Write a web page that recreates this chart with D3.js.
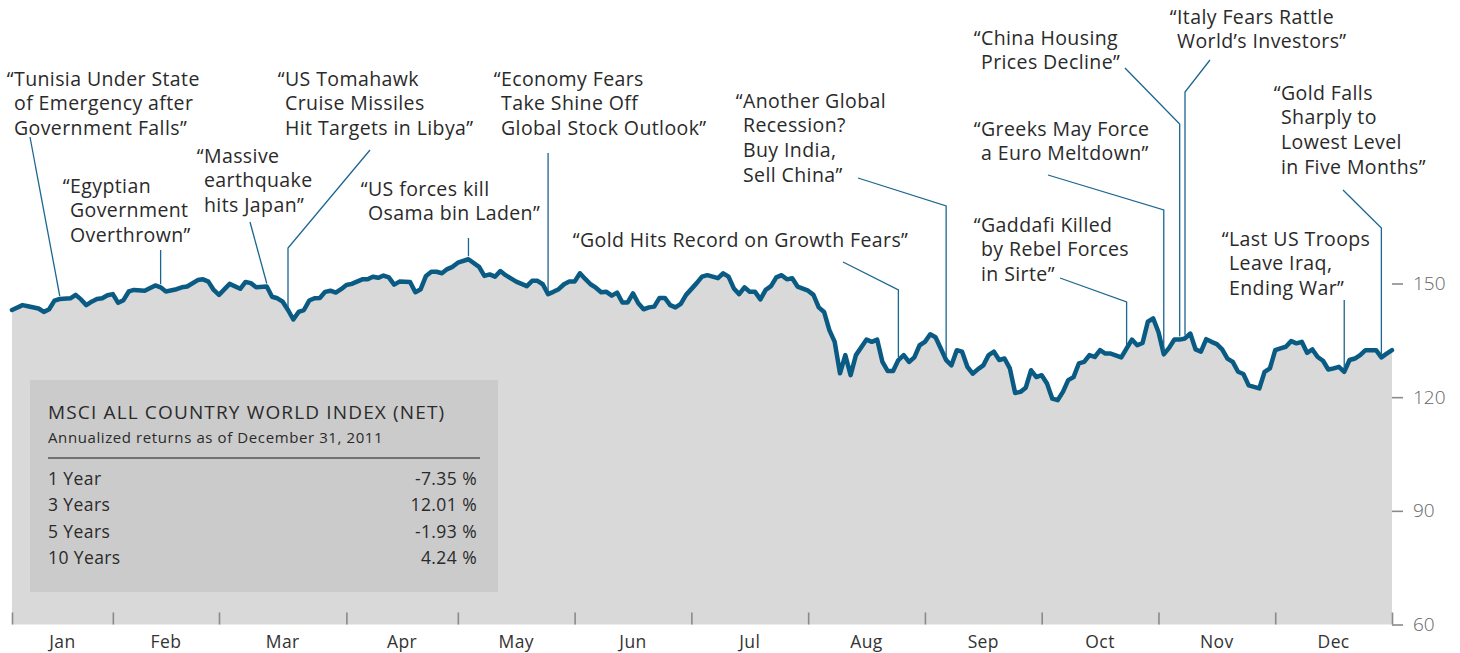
<!DOCTYPE html>
<html>
<head>
<meta charset="utf-8">
<script src="https://cdn.jsdelivr.net/npm/d3@7"></script>
<style>
  body { margin: 0; background: #fff; }
  svg { display: block; font-family: "Open Sans", Lato, sans-serif; }
  .axis path.domain { display: none; }
  .axis line { stroke: #8a8a8a; stroke-width: 1.6; }
  .y.axis text { fill: #666; font-size: 19px; font-family: "Open Sans", sans-serif; font-weight: 300; }
  .event-text { fill: #2a2a2a; font-size: 19.5px; letter-spacing: 0.4px; }
  .leader { fill: none; stroke: #1b6690; stroke-width: 1.3; }
  .month-label { fill: #333; font-size: 17.5px; letter-spacing: 0.4px; text-anchor: middle; }
  .box-text { fill: #2a2a2a; }
</style>
</head>
<body>
<svg id="chart" width="1460" height="653"></svg>
<script>
'use strict';

// month names and the trading day on which each month starts (last value = end of year)
var months = ['Jan','Feb','Mar','Apr','May','Jun','Jul','Aug','Sep','Oct','Nov','Dec'];
var monthStartDay = [0, 19, 39, 63, 84, 106, 128, 150, 172, 194, 216, 238, 260];

var yTicks = [60, 90, 120, 150];

// [trading day, index level]
var indexPoints = [
  [0,143.0],[2,144.3],[3,144.0],[5,143.4],[6,142.5],[7,143.2],[8,145.5],[9,145.9],[11,146.1],[12,147.0],
  [13,145.8],[14,144.3],[15,145.2],[16,145.9],[17,146.1],[18,146.9],
  [19,147.2],[20,144.9],[21,145.6],[22,147.9],[23,148.3],[25,148.1],[27,149.5],[28,149.0],[29,147.9],
  [31,148.5],[32,149.0],[33,149.2],[35,150.9],[36,151.1],[37,150.5],[38,148.3],
  [39,147.0],[41,149.9],[43,148.6],[44,150.4],[45,150.1],[46,149.0],[48,149.2],[49,146.5],[50,146.1],
  [51,145.2],[52,143.0],[53,140.5],[54,142.5],[55,143.0],[56,145.5],[57,146.1],[58,146.2],[59,147.8],
  [60,148.1],[61,147.6],[62,148.5],
  [63,149.6],[64,149.9],[66,151.1],[67,151.1],[68,151.8],[69,151.5],[70,152.1],[71,151.6],[72,149.7],
  [73,150.5],[75,150.4],[76,147.7],[77,148.5],[78,152.0],[79,153.1],[80,153.1],[81,152.7],[82,153.8],
  [83,154.4],
  [84,155.5],[86,156.4],[88,154.4],[89,152.0],[90,152.4],[91,151.8],[92,153.3],[93,152.2],[95,150.5],
  [97,149.3],[98,150.7],[99,150.7],[100,149.8],[101,147.2],[102,147.8],[103,148.5],[104,149.8],[105,150.5],
  [106,150.5],[107,152.7],[108,151.2],[109,149.8],[110,148.9],[111,147.7],[112,147.8],[113,146.8],
  [114,147.6],[115,145.0],[116,145.0],[117,147.4],[118,144.8],[119,143.2],[120,143.7],[121,143.9],
  [122,146.2],[123,146.2],[124,144.3],[125,143.7],[126,144.6],[127,147.0],
  [129,150.1],[130,151.8],[131,152.2],[133,151.4],[134,152.7],[135,151.8],[136,148.7],[137,147.2],
  [138,149.0],[139,147.8],[140,147.8],[141,145.8],[142,148.3],[143,149.3],[144,151.6],[145,152.2],
  [146,151.1],[147,151.4],[148,149.2],
  [150,148.1],[151,147.0],[152,143.7],[153,142.5],[154,137.7],[155,134.6],[156,126.3],[157,131.1],
  [158,125.8],[159,131.1],[161,135.2],[162,134.6],[163,135.2],[164,129.3],[165,126.9],[166,126.9],
  [167,129.8],[168,131.1],[169,129.3],[170,130.5],[171,133.7],
  [172,134.6],[173,136.6],[174,135.8],[176,129.8],[177,128.4],[178,132.4],[179,132.0],[180,128.0],
  [181,126.2],[182,127.4],[183,128.4],[184,131.1],[185,132.0],[186,129.8],[187,130.2],[188,127.6],
  [189,121.1],[190,121.4],[191,122.5],[192,127.1],[193,125.3],
  [194,125.8],[195,123.6],[196,119.6],[197,119.2],[198,121.4],[199,124.5],[200,125.3],[201,128.9],
  [202,129.3],[203,131.1],[204,130.6],[205,132.4],[206,131.5],[207,131.5],[209,130.5],[210,132.9],
  [211,135.2],[212,133.7],[213,134.3],[214,139.9],[215,140.8],
  [216,137.2],[217,131.3],[218,133.0],[219,135.2],[220,135.2],[221,135.5],[222,136.8],[223,132.6],
  [224,132.0],[225,135.3],[226,134.6],[227,134.0],[228,132.6],[229,130.2],[230,129.3],[231,126.7],
  [232,126.1],[233,123.1],[234,122.7],[235,122.3],[236,126.7],[237,127.6],
  [238,132.4],[239,132.9],[240,133.3],[241,134.8],[242,134.2],[243,134.6],[244,131.7],[245,132.6],
  [246,130.6],[247,129.6],[248,127.3],[249,127.6],[250,128.0],[251,126.7],[252,129.8],[253,130.2],
  [254,131.1],[255,132.4],[257,132.4],[258,130.5],[259,131.5],[260,132.4]
];

// headlines and the trading day they point at
var eventTexts = [
  ['“Tunisia Under State', 'of Emergency after', 'Government Falls”'],
  ['“Egyptian', 'Government', 'Overthrown”'],
  ['“Massive', 'earthquake', 'hits Japan”'],
  ['“US Tomahawk', 'Cruise Missiles', 'Hit Targets in Libya”'],
  ['“US forces kill', 'Osama bin Laden”'],
  ['“Economy Fears', 'Take Shine Off', 'Global Stock Outlook”'],
  ['“Gold Hits Record on Growth Fears”'],
  ['“Another Global', 'Recession?', 'Buy India,', 'Sell China”'],
  ['“Gaddafi Killed', 'by Rebel Forces', 'in Sirte”'],
  ['“Greeks May Force', 'a Euro Meltdown”'],
  ['“China Housing', 'Prices Decline”'],
  ['“Italy Fears Rattle', 'World’s Investors”'],
  ['“Gold Falls', 'Sharply to', 'Lowest Level', 'in Five Months”'],
  ['“Last US Troops', 'Leave Iraq,', 'Ending War”']
];
var eventDays = [9, 28, 48, 52, 86, 101, 167, 176, 210, 217, 220, 221, 258, 251];

// return table
var returnPeriods = ['1 Year', '3 Years', '5 Years', '10 Years'];
var returnValues = ['-7.35 %', '12.01 %', '-1.93 %', '4.24 %'];

// ---- layout ----
// label placement: text x, first line centre y, diagonal start, y where leader turns vertical
var eventLayout = [
  {x: 14,   y: 79,  diag: [30, 137],   top: null},
  {x: 70,   y: 186, diag: null,        top: 250},
  {x: 204,  y: 156, diag: [250, 222],  top: null},
  {x: 285,  y: 79,  diag: [370, 150],  top: 248},
  {x: 368,  y: 189, diag: null,        top: 238},
  {x: 501,  y: 79,  diag: null,        top: 153},
  {x: 580,  y: 240, diag: [843, 262],  top: 290},
  {x: 743,  y: 101, diag: [858, 178],  top: 206},
  {x: 981,  y: 225, diag: [1060, 278], top: 302},
  {x: 981,  y: 129, diag: [1048, 175], top: 210},
  {x: 981,  y: 38,  diag: [1125, 68],  top: 124},
  {x: 1177, y: 17,  diag: [1210, 60],  top: 92},
  {x: 1281, y: 93,  diag: [1343, 190], top: 228},
  {x: 1229, y: 239, diag: null,        top: 300}
];
var nLineHeight = 24.6;

var sSvg = d3.select('#chart');

var scaleX = d3.scaleLinear().domain([0, 260]).range([12, 1392]);
var scaleY = d3.scaleLinear().domain([60, 150]).range([624.5, 283.5]);

// area under the curve
var area = d3.area()
  .x(function(d) { return scaleX(d[0]); })
  .y0(scaleY(60))
  .y1(function(d) { return scaleY(d[1]); });

sSvg.append('path')
  .datum(indexPoints)
  .attr('d', area)
  .attr('fill', '#d9d9d9');

// return table box
var rBox = {x: 30, y: 380, w: 468, h: 212};
var sBox = sSvg.append('g').attr('transform', 'translate(' + rBox.x + ',' + rBox.y + ')');
sBox.append('rect')
  .attr('width', rBox.w)
  .attr('height', rBox.h)
  .attr('fill', '#cbcbcb');
sBox.append('text')
  .attr('class', 'box-text')
  .attr('x', 18).attr('y', 32).attr('dy', '0.35em')
  .style('font-size', '19px')
  .style('letter-spacing', '1.15px')
  .text('MSCI ALL COUNTRY WORLD INDEX (NET)');
sBox.append('text')
  .attr('class', 'box-text')
  .attr('x', 18).attr('y', 58).attr('dy', '0.35em')
  .style('font-size', '15px')
  .style('letter-spacing', '0.6px')
  .text('Annualized returns as of December 31, 2011');
sBox.append('line')
  .attr('x1', 18).attr('x2', 450)
  .attr('y1', 78).attr('y2', 78)
  .attr('stroke', '#555').attr('stroke-width', 1.5);

var sRows = sBox.selectAll('.row')
  .data(returnPeriods)
  .enter()
    .append('g')
      .attr('class', 'row')
      .attr('transform', function(d, i) { return 'translate(0,' + (99 + i * 26.3) + ')'; });
sRows.append('text')
  .attr('class', 'box-text')
  .attr('x', 18).attr('dy', '0.35em')
  .style('font-size', '17.5px')
  .style('letter-spacing', '0.4px')
  .text(function(d) { return d; });
sRows.append('text')
  .attr('class', 'box-text')
  .attr('x', 447).attr('dy', '0.35em')
  .style('font-size', '17.5px')
  .style('letter-spacing', '0.4px')
  .style('text-anchor', 'end')
  .text(function(d, i) { return returnValues[i]; });

// the index line
var line = d3.line()
  .x(function(d) { return scaleX(d[0]); })
  .y(function(d) { return scaleY(d[1]); });

sSvg.append('path')
  .datum(indexPoints)
  .attr('d', line)
  .attr('fill', 'none')
  .attr('stroke', '#0a5b84')
  .attr('stroke-width', 4.5)
  .attr('stroke-linejoin', 'round')
  .attr('stroke-linecap', 'round');

// x axis: month boundary ticks pointing up from the baseline
var axisX = d3.axisTop(scaleX)
  .tickValues(monthStartDay)
  .tickSize(12)
  .tickFormat('');
sSvg.append('g')
  .attr('class', 'x axis')
  .attr('transform', 'translate(0,' + scaleY(60) + ')')
  .call(axisX);

sSvg.selectAll('.month-label')
  .data(months)
  .enter()
    .append('text')
      .attr('class', 'month-label')
      .attr('x', function(d, i) { return scaleX((monthStartDay[i] + monthStartDay[i + 1]) / 2); })
      .attr('y', 642)
      .attr('dy', '0.35em')
      .text(function(d) { return d; });

// y axis on the right
var axisY = d3.axisRight(scaleY)
  .tickValues(yTicks)
  .tickSize(11)
  .tickPadding(10);
sSvg.append('g')
  .attr('class', 'y axis')
  .attr('transform', 'translate(' + scaleX(260) + ',0)')
  .call(axisY);

// level on the curve for a given day
var bisect = d3.bisector(function(d) { return d[0]; }).left;
function LevelAt(nDay)
{
  var i = bisect(indexPoints, nDay);
  if (i <= 0) return indexPoints[0][1];
  if (i >= indexPoints.length) return indexPoints[indexPoints.length - 1][1];
  var a = indexPoints[i - 1], b = indexPoints[i];
  return a[1] + (b[1] - a[1]) * (nDay - a[0]) / (b[0] - a[0]);
}

// headlines with leader lines
eventTexts.forEach(function(aLines, i)
{
  var rLay = eventLayout[i];
  var nX = scaleX(eventDays[i]);
  var nY = scaleY(LevelAt(eventDays[i])) - 3;

  var aPts = [];
  if (rLay.diag) aPts.push(rLay.diag);
  if (rLay.top !== null) aPts.push([nX, rLay.top]);
  aPts.push([nX, nY]);

  sSvg.append('path')
    .attr('class', 'leader')
    .attr('d', d3.line()(aPts));

  var sText = sSvg.append('text')
    .attr('class', 'event-text')
    .attr('y', rLay.y);

  aLines.forEach(function(strLine, j)
  {
    sText.append('tspan')
      .attr('x', rLay.x)
      .attr('y', rLay.y + j * nLineHeight)
      .attr('dy', '0.35em')
      .text(strLine);
  });

  // hang the opening quote into the margin
  var sFirst = sText.select('tspan');
  var nQuote = sFirst.node().getSubStringLength(0, 1);
  sFirst.attr('x', rLay.x - nQuote);
});
</script>
</body>
</html>
